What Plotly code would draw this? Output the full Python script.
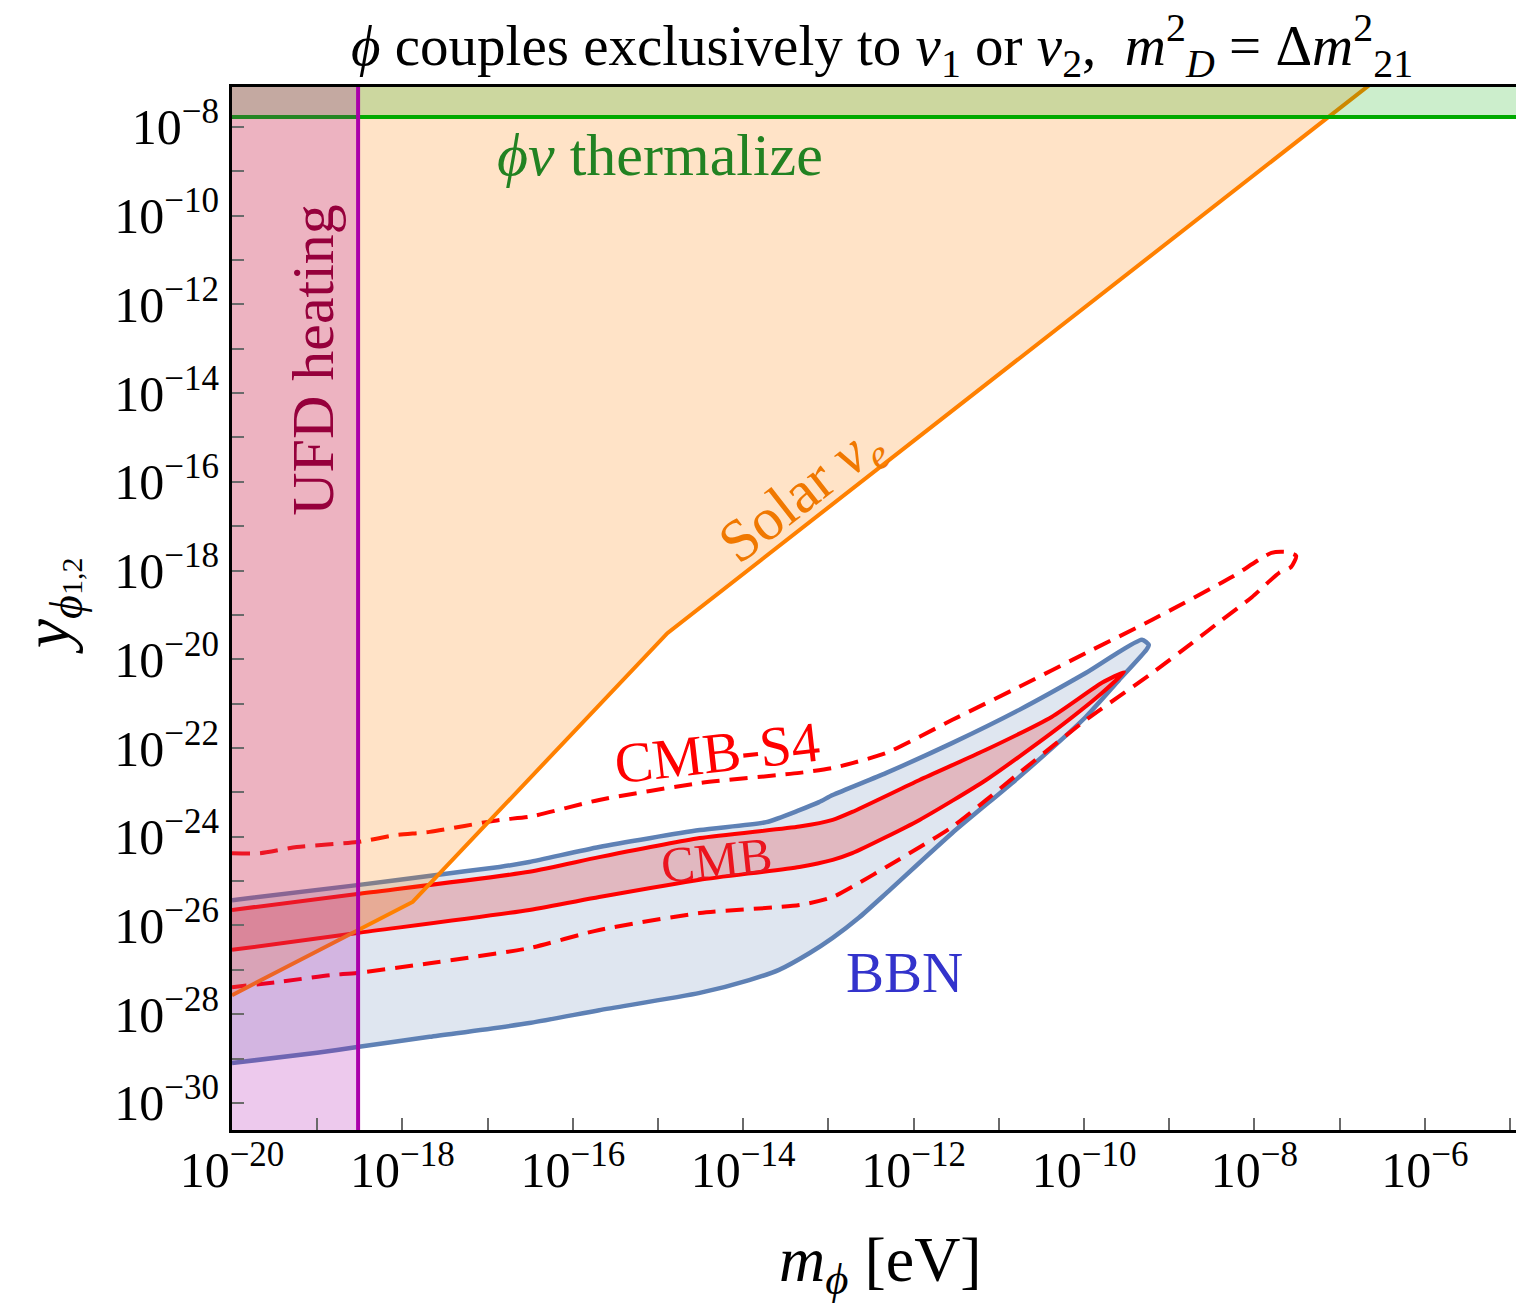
import numpy as np
import plotly.graph_objects as go

# ---------------- data (log10 units) ----------------
X_RANGE = [-20.0, -4.93]          # log10(m_phi / eV)
Y_RANGE = [-30.61, -7.10]         # log10(y)

# BBN closed contour
bbn_x = [-20.00, -18.53, -17.60, -16.86, -16.51, -15.69, -14.51, -13.73, -13.34, -13.11, -12.95,
         -12.32, -11.55, -10.76, -9.98, -9.32, -9.24, -9.27, -9.59, -9.98, -10.76, -11.55,
         -12.32, -12.64, -12.95, -13.22, -13.58, -13.93, -14.51, -15.69, -16.51, -17.68, -18.53,
         -19.00, -20.00]
bbn_y = [-25.43, -25.09, -24.86, -24.68, -24.57, -24.23, -23.85, -23.67, -23.40, -23.22, -23.06,
         -22.56, -21.89, -21.14, -20.31, -19.56, -19.68, -19.79, -20.47, -21.30, -22.65, -23.92,
         -25.27, -25.82, -26.28, -26.62, -27.00, -27.23, -27.52, -27.91, -28.20, -28.51, -28.74,
         -28.87, -29.10]

# CMB closed contour
cmb_x = [-20.00, -18.53, -16.51, -15.69, -14.51, -13.34, -12.95, -12.72, -11.93, -11.15, -10.38,
         -9.79, -9.53, -9.79, -10.38, -11.15, -11.93, -12.72, -12.95, -13.34, -14.51, -15.69,
         -16.51, -18.53, -20.00]
cmb_y = [-25.65, -25.29, -24.79, -24.46, -24.03, -23.77, -23.62, -23.44, -22.72, -22.04, -21.30,
         -20.53, -20.29, -20.76, -21.66, -22.72, -23.62, -24.37, -24.52, -24.68, -24.97, -25.36,
         -25.65, -26.17, -26.55]

# CMB-S4 (dashed) contour
s4_x = [-20.00, -19.67, -19.24, -18.53, -18.07, -17.68, -16.86, -16.51, -15.69, -14.51, -13.34,
        -12.95, -12.72, -12.32, -11.55, -10.76, -9.98, -9.20, -8.26, -7.80, -7.63, -7.51, -7.57,
        -7.71, -8.03, -8.38, -8.73, -9.20, -9.98, -10.76, -11.55, -12.32, -12.64, -12.95, -13.34,
        -14.51, -15.69, -16.51, -17.68, -18.53, -18.85, -19.44, -20.00]
s4_y = [-24.37, -24.37, -24.23, -24.12, -23.96, -23.89, -23.62, -23.55, -23.17, -22.79, -22.56,
        -22.45, -22.34, -22.11, -21.37, -20.62, -19.86, -19.11, -18.14, -17.60, -17.58, -17.67, -17.92,
        -18.05, -18.60, -19.11, -19.63, -20.31, -21.37, -22.56, -23.78, -24.68, -25.04, -25.36, -25.54,
        -25.72, -26.10, -26.51, -26.85, -27.07, -27.12, -27.27, -27.39]

# Solar nu_e bound
solar_x = [-20.00, -17.88, -14.89, -6.60]
solar_y = [-27.57, -25.47, -19.41, -6.98]

# thermalization and UFD heating
THERM_Y = -7.775
UFD_X = -18.52

x_tick_exp = list(range(-20, -4))
y_tick_exp = list(range(-30, -7))

# ---------------- figure ----------------
FONT = "Liberation Serif"
P = lambda a: 10.0 ** np.asarray(a, dtype=float)

fig = go.Figure()

# BBN
fig.add_trace(go.Scatter(x=P(bbn_x), y=P(bbn_y), mode="lines", fill="toself",
                         fillcolor="rgba(94,129,181,0.2)",
                         line=dict(color="rgb(94,129,181)", width=4.5, shape="spline", smoothing=0.6),
                         hoverinfo="skip"))
# CMB
fig.add_trace(go.Scatter(x=P(cmb_x), y=P(cmb_y), mode="lines", fill="toself",
                         fillcolor="rgba(235,0,0,0.2)",
                         line=dict(color="rgb(255,0,0)", width=4, shape="spline", smoothing=0.6),
                         hoverinfo="skip"))
# CMB-S4
fig.add_trace(go.Scatter(x=P(s4_x), y=P(s4_y), mode="lines",
                         line=dict(color="rgb(255,0,0)", width=4, dash="18px,10px",
                                   shape="spline", smoothing=0.6),
                         hoverinfo="skip"))
# Solar fill + line
sol_fx = solar_x + [solar_x[-1], solar_x[0]]
sol_fy = solar_y + [Y_RANGE[1] + 1, Y_RANGE[1] + 1]
fig.add_trace(go.Scatter(x=P(sol_fx), y=P(sol_fy), mode="none", fill="toself",
                         fillcolor="rgba(255,128,0,0.22)", hoverinfo="skip"))
fig.add_trace(go.Scatter(x=P(solar_x), y=P(solar_y), mode="lines",
                         line=dict(color="rgb(255,128,0)", width=4), hoverinfo="skip"))
# thermalize region
th_x = [X_RANGE[0] - 1, X_RANGE[1] + 1, X_RANGE[1] + 1, X_RANGE[0] - 1]
th_y = [THERM_Y, THERM_Y, Y_RANGE[1] + 1, Y_RANGE[1] + 1]
fig.add_trace(go.Scatter(x=P(th_x), y=P(th_y), mode="none", fill="toself",
                         fillcolor="rgba(0,170,0,0.2)", hoverinfo="skip"))
fig.add_trace(go.Scatter(x=P([X_RANGE[0] - 1, X_RANGE[1] + 1]), y=P([THERM_Y, THERM_Y]),
                         mode="lines", line=dict(color="rgb(0,170,0)", width=4), hoverinfo="skip"))
# UFD heating region
u_x = [X_RANGE[0] - 1, UFD_X, UFD_X, X_RANGE[0] - 1]
u_y = [Y_RANGE[0] - 1, Y_RANGE[0] - 1, Y_RANGE[1] + 1, Y_RANGE[1] + 1]
fig.add_trace(go.Scatter(x=P(u_x), y=P(u_y), mode="none", fill="toself",
                         fillcolor="rgba(170,0,170,0.21)", hoverinfo="skip"))
fig.add_trace(go.Scatter(x=P([UFD_X, UFD_X]), y=P([Y_RANGE[0] - 1, Y_RANGE[1] + 1]),
                         mode="lines", line=dict(color="rgb(170,0,170)", width=4), hoverinfo="skip"))


def tlabels(exps):
    return [f"10<sup>\u2212{-e}</sup>" if e % 2 == 0 else "" for e in exps]


fig.update_xaxes(type="log", range=X_RANGE, showgrid=False, zeroline=False,
                 tickvals=P(x_tick_exp), ticktext=tlabels(x_tick_exp),
                 ticks="inside", ticklen=12, tickwidth=2, tickcolor="#6a6a6a",
                 showline=True, linecolor="black", linewidth=3, mirror=True,
                 ticklabelstandoff=-6,
                 tickfont=dict(family=FONT, size=50, color="black"))
fig.update_yaxes(type="log", range=Y_RANGE, showgrid=False, zeroline=False,
                 tickvals=P(y_tick_exp), ticktext=tlabels(y_tick_exp),
                 ticks="inside", ticklen=12, tickwidth=2, tickcolor="#6a6a6a",
                 showline=True, linecolor="black", linewidth=3, mirror=False,
                 tickfont=dict(family=FONT, size=50, color="black"))

ann = []
def add(text, x, y, size, color, angle=0, xref="x", yref="y"):
    ann.append(dict(text=text, x=x, y=y, xref=xref, yref=yref, showarrow=False,
                    textangle=angle, xanchor="center", yanchor="middle",
                    font=dict(family=FONT, size=size, color=color)))

add("<i>\u03d5\u03bd</i> thermalize", -14.98, -8.63, 60, "rgb(34,130,34)")
add("UFD heating", -19.05, -13.25, 60, "rgb(150,0,60)", angle=-90)
add("Solar <i>\u03bd<sub>e</sub></i>", -13.30, -16.30, 60, "rgb(240,120,0)", angle=-38)
add("CMB-S4", -14.31, -22.09, 57, "rgb(255,0,0)", angle=-6.5)
add("CMB", -14.31, -24.52, 50, "rgb(235,20,30)", angle=-6)
add("BBN", -12.11, -27.05, 57, "rgb(51,51,204)")

add("<i>\u03d5</i> couples exclusively to <i>\u03bd</i><sub>1</sub> or <i>\u03bd</i><sub>2</sub>,  "
    "<i>m</i><sup>2</sup><sub><i>D</i></sub> = \u0394<i>m</i><sup>2</sup><sub>21</sub>",
    0.506, 1.04, 57, "black", xref="paper", yref="paper")
add("<i>m</i><sub><i>\u03d5</i></sub> [eV]", 0.505, -0.128, 64, "black", xref="paper", yref="paper")
add("<i>y</i><sub><i>\u03d5</i><span style='font-size:30px'>1,2</span></sub>", -0.141, 0.503, 66, "black",
    angle=-90, xref="paper", yref="paper")

fig.update_layout(width=1516, height=1306, margin=dict(l=232, r=0, t=87, b=176),
                  plot_bgcolor="white", paper_bgcolor="white", showlegend=False,
                  annotations=ann, hovermode=False)

fig.write_html("out.html", config={"displayModeBar": False},
               post_script="document.body.style.margin='0';document.body.style.overflow='hidden';")
